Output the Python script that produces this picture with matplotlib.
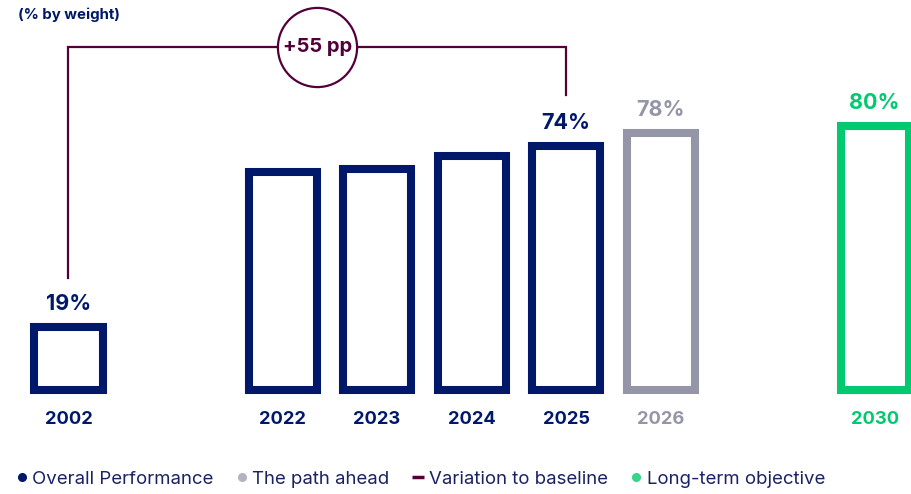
import matplotlib.pyplot as plt
from matplotlib.lines import Line2D

plt.rcParams['font.family'] = ['Inter', 'DejaVu Sans']

# data
years = ['2002', '2022', '2023', '2024', '2025', '2026', '2030']
values = [19, 66, 67, 71, 74, 78, 80]
kinds = ['overall', 'overall', 'overall', 'overall', 'overall', 'path', 'objective']
show_value = [True, False, False, False, True, True, True]
legend_labels = ['Overall Performance', 'The path ahead', 'Variation to baseline', 'Long-term objective']

NAVY = '#00186a'
GRAY = '#9595a8'
GREEN = '#00c96f'
MAROON = '#52003a'
colors = {'overall': NAVY, 'path': GRAY, 'objective': GREEN}

# x positions: wider gaps before 2022 and before 2030
gaps = [0, 2.265, 1, 1, 1, 1, 2.265]
pos = []
acc = 0
for g in gaps:
    acc += g
    pos.append(acc)

fig = plt.figure(figsize=(9.12, 4.94), dpi=100)
ax = fig.add_axes([0, 0, 1, 1])
ax.set_xlim(-68.5 / 94.5, (912 - 68.5) / 94.5)
ax.set_ylim(-104.5 / 3.29, (494 - 104.5) / 3.29)
ax.axis('off')

for x, v, y, k, show in zip(pos, values, years, kinds, show_value):
    c = colors[k]
    ax.bar(x, v, width=0.72, facecolor='white', edgecolor=c, linewidth=5.8)
    if show:
        ax.annotate(f'{v}%', (x, v), xytext=(0, 12.5), textcoords='offset points',
                    ha='center', va='baseline', fontsize=15.5, fontweight='bold', color=c)
    ax.text(x, -9.0, y, ha='center', va='center', fontsize=13.2,
            fontweight='bold', color=c)

# variation bracket between 2002 and 2025
i0, i1 = 0, years.index('2025')
top = 104
ax.plot([pos[i0], pos[i0], pos[i1], pos[i1]],
        [values[i0] + 15, top, top, values[i1] + 15.5],
        color=MAROON, lw=1.6, solid_joinstyle='miter')
mid = (pos[i0] + pos[i1]) / 2
ax.plot(mid, top, marker='o', markersize=57, markerfacecolor='white',
        markeredgecolor=MAROON, markeredgewidth=1.6)
ax.text(mid, top, f'+{values[i1] - values[i0]} pp', ha='center', va='center',
        fontsize=14.5, fontweight='bold', color=MAROON)

fig.text(18 / 912, 1 - 15 / 494, '(% by weight)', ha='left', va='center',
         fontsize=10.8, fontweight='bold', color=NAVY)

handles = [
    Line2D([], [], ls='none', marker='o', markersize=5.5, color=NAVY),
    Line2D([], [], ls='none', marker='o', markersize=5.5, color='#b3b3c3'),
    Line2D([], [], ls='none', marker='_', markersize=8, markeredgewidth=2.5, color=MAROON),
    Line2D([], [], ls='none', marker='o', markersize=5.5, color='#33d68a'),
]
leg = fig.legend(handles, legend_labels, loc='center left', bbox_to_anchor=(16 / 912, 1 - 479 / 494),
                 ncol=4, frameon=False, handlelength=0.6, handletextpad=0.25,
                 columnspacing=1.25, fontsize=13.4, borderaxespad=0, borderpad=0)
for t in leg.get_texts():
    t.set_color('#1a2266')

fig.savefig('out.png', dpi=100)
